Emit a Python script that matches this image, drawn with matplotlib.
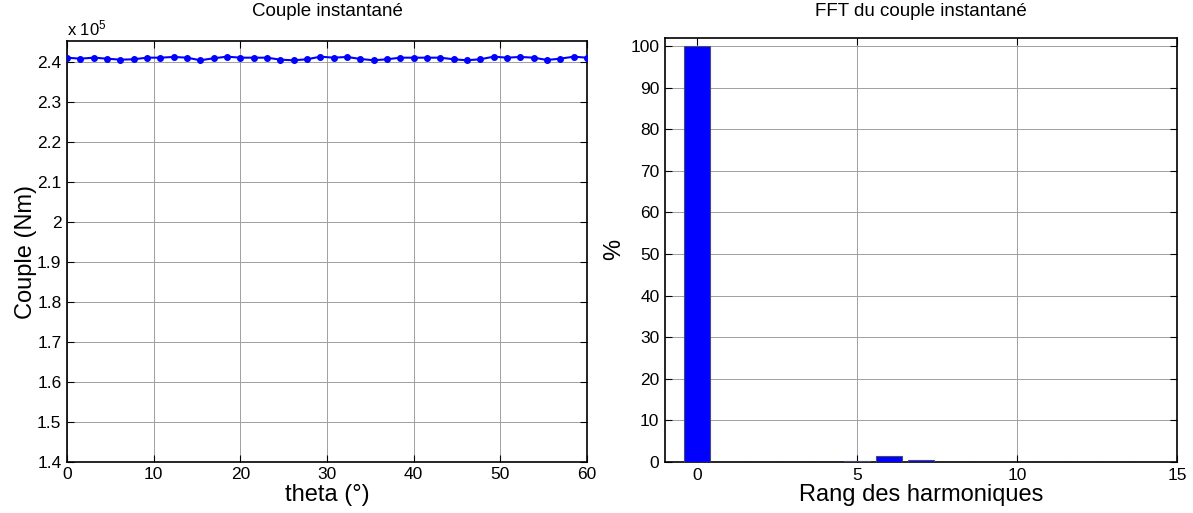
import numpy as np
import matplotlib
matplotlib.use("Agg")
import matplotlib.pyplot as plt
from matplotlib.ticker import FuncFormatter, MultipleLocator

plt.rcParams['font.family'] = ['Liberation Sans', 'DejaVu Sans']
plt.rcParams['mathtext.default'] = 'regular'

# couple instantane (Nm) vs theta (deg), 40 points from 0 to 60
theta = [0.00, 1.54, 3.08, 4.62, 6.15, 7.69, 9.23, 10.77, 12.31, 13.85,
         15.38, 16.92, 18.46, 20.00, 21.54, 23.08, 24.62, 26.15, 27.69, 29.23,
         30.77, 32.31, 33.85, 35.38, 36.92, 38.46, 40.00, 41.54, 43.08, 44.62,
         46.15, 47.69, 49.23, 50.77, 52.31, 53.85, 55.38, 56.92, 58.46, 60.00]
couple = [241150, 240900, 241150, 240900, 240650, 240750, 241150, 241150, 241330, 241150,
          240500, 241000, 241400, 241150, 241150, 241150, 240650, 240500, 240750, 241400,
          241150, 241330, 240830, 240500, 240750, 241150, 241150, 241150, 241150, 240750,
          240500, 240750, 241400, 241150, 241330, 241150, 240580, 240900, 241400, 241150]

# FFT du couple (%)
rang = [0, 1, 2, 3, 4, 5, 6, 7, 8, 9, 10, 11, 12, 13, 14]
fft_pct = [100, 0.08, 0.05, 0.05, 0.05, 0.35, 1.45, 0.4, 0.08, 0.05, 0.05, 0.05, 0.05, 0.05, 0.05]

W, H = 1193, 513
fig = plt.figure(figsize=(W / 100, H / 100), dpi=100)

ax1 = fig.add_axes([67 / W, 1 - 461.7 / H, 520 / W, 420.4 / H])
ax2 = fig.add_axes([665 / W, 1 - 462 / H, 512 / W, 424.3 / H])

grid_kw = dict(color='#a0a0a0', linewidth=0.7, linestyle='-')

# left: couple instantane
ax1.plot(theta, couple, '.-', color='#0000ff', linewidth=1.5, markersize=8, zorder=3)
ax1.set_xlim(0, 60)
ax1.set_ylim(1.4e5, 2.4525e5)
ax1.xaxis.set_major_locator(MultipleLocator(10))
ax1.yaxis.set_major_locator(MultipleLocator(1e4))
ax1.yaxis.set_major_formatter(FuncFormatter(lambda v, p: '%g' % round(v / 1e5, 2)))
ax1.text(0, 1.006, 'x 10$^{5}$', transform=ax1.transAxes, fontsize=12, ha='left', va='bottom')
ax1.set_xlabel('theta (°)', fontsize=17, labelpad=1)
ax1.set_ylabel('Couple (Nm)', fontsize=17, labelpad=0)
ax1.grid(True, **grid_kw)

# right: FFT
ax2.bar(rang, fft_pct, width=0.8, color='#0000ff', edgecolor='#4a4a70', linewidth=0.8, zorder=3)
ax2.set_xlim(-1, 15)
ax2.set_ylim(0, 102)
ax2.set_xticks([0, 5, 10, 15])
ax2.yaxis.set_major_locator(MultipleLocator(10))
ax2.set_xlabel('Rang des harmoniques', fontsize=17, labelpad=1)
ax2.set_ylabel('%', fontsize=17, labelpad=4)
ax2.grid(True, **grid_kw)

# titles at the same height for both panels
fig.text(327 / W, 1 - 12 / H, 'Couple instantané', fontsize=13.5, ha='center', va='center')
fig.text(921 / W, 1 - 12 / H, 'FFT du couple instantané', fontsize=13.5, ha='center', va='center')

for ax in (ax1, ax2):
    ax.set_axisbelow(True)
    ax.tick_params(direction='in', top=True, right=True, labelsize=12.5, length=5, width=0.8, pad=4)
    for s in ax.spines.values():
        s.set_linewidth(1.2)
        s.set_color('black')

fig.savefig('out.png', dpi=100)
